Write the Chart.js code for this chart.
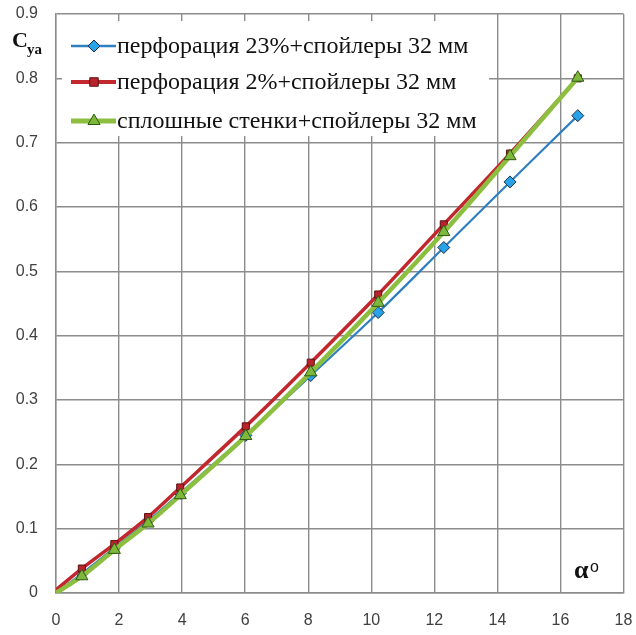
<!DOCTYPE html>
<html>
<head>
<meta charset="utf-8">
<script src="https://cdn.jsdelivr.net/npm/chart.js@4.4.1/dist/chart.umd.min.js"></script>
<style>
    html, body { margin: 0; padding: 0; background: #fff; }
    #wrap { width: 636px; height: 635px; }
</style>
</head>
<body>
<div id="wrap"><canvas id="myChart" width="636" height="635"></canvas></div>
<script>
// angle of attack, degrees (first point is the origin, drawn without a marker)
const alpha = [0, 0.82, 1.85, 2.92, 3.94, 6.02, 8.08, 10.22, 12.3, 14.4, 16.55];
// lift coefficient Cya for each configuration
const cyPerf23 = [0, 0.030, 0.070, 0.112, 0.155, 0.245, 0.338, 0.436, 0.537, 0.639, 0.742];
const cyPerf2 = [0.005, 0.038, 0.076, 0.118, 0.164, 0.259, 0.358, 0.464, 0.573, 0.683, 0.800];
const cySolid = [0, 0.026, 0.067, 0.108, 0.152, 0.244, 0.343, 0.451, 0.561, 0.679, 0.801];

const seriesNames = [
    'перфорация 23%+спойлеры 32 мм',
    'перфорация 2%+спойлеры 32 мм',
    'сплошные стенки+спойлеры 32 мм'
];
const xTicks = [0, 2, 4, 6, 8, 10, 12, 14, 16, 18];
const yTicks = [0, 0.1, 0.2, 0.3, 0.4, 0.5, 0.6, 0.7, 0.8, 0.9];

function points(ys) {
    return alpha.map(function (a, i) { return {x: a, y: ys[i]}; });
}

function markerSize(r) {
    return function (ctx) { return ctx.dataIndex === 0 ? 0 : r; };
}

// keep the plot box fixed: no extra room for half labels at the ends
function noEdgePadding(scale) {
    scale.paddingTop = 0;
    scale.paddingBottom = 0;
    scale.paddingLeft = 0;
    scale.paddingRight = 0;
}

const gridColor = '#8c8c8c';

const datasets = [
    {
        label: seriesNames[0],
        data: points(cyPerf23),
        borderColor: '#2f7fc1',
        borderWidth: 2.2,
        backgroundColor: '#29a3e8',
        pointBackgroundColor: '#29a3e8',
        pointBorderColor: '#1b2f4a',
        pointBorderWidth: 1,
        pointStyle: 'rectRot',
        pointRadius: markerSize(6),
        order: 3
    },
    {
        label: seriesNames[1],
        data: points(cyPerf2),
        borderColor: '#c1272d',
        borderWidth: 3.5,
        backgroundColor: '#b8232c',
        pointBackgroundColor: '#b8232c',
        pointBorderColor: '#5e1010',
        pointBorderWidth: 1,
        pointStyle: 'rect',
        pointRadius: markerSize(5),
        order: 2
    },
    {
        label: seriesNames[2],
        data: points(cySolid),
        borderColor: '#8cbf3f',
        borderWidth: 4.5,
        backgroundColor: '#7db83a',
        pointBackgroundColor: '#7db83a',
        pointBorderColor: '#2f5a12',
        pointBorderWidth: 1,
        pointStyle: 'triangle',
        pointRadius: markerSize(7),
        order: 1
    }
];

// legend box with line + marker samples, plus the axis captions
const decorations = {
    id: 'decorations',
    beforeDatasetsDraw: function (chart) {
        const ctx = chart.ctx;
        ctx.save();
        ctx.fillStyle = '#fff';
        ctx.fillRect(62, 21, 427, 115);

        const rowsY = [46, 82, 121];
        chart.data.datasets.forEach(function (ds, i) {
            const y = rowsY[i];
            ctx.strokeStyle = ds.borderColor;
            ctx.lineWidth = ds.borderWidth + 0.5;
            ctx.beginPath();
            ctx.moveTo(71, y);
            ctx.lineTo(116, y);
            ctx.stroke();

            ctx.fillStyle = ds.pointBackgroundColor;
            ctx.strokeStyle = ds.pointBorderColor;
            ctx.lineWidth = 1;
            Chart.helpers.drawPoint(ctx, {
                pointStyle: ds.pointStyle,
                radius: i === 2 ? 7 : 6,
                rotation: 0,
                borderWidth: 1
            }, 94, y);

            ctx.fillStyle = '#111';
            ctx.font = '24px "Liberation Serif"';
            ctx.textBaseline = 'middle';
            ctx.textAlign = 'left';
            ctx.fillText(ds.label, 117, y + 1);
        });

        // Cya
        ctx.fillStyle = '#111';
        ctx.textBaseline = 'alphabetic';
        ctx.font = 'bold 22px "Liberation Serif"';
        ctx.fillText('C', 12, 47);
        ctx.font = 'bold 15px "Liberation Serif"';
        ctx.fillText('ya', 27, 54);

        // αo
        ctx.font = 'bold 26px "Liberation Serif"';
        ctx.fillText('α', 574, 578);
        ctx.font = '16px "Liberation Sans"';
        ctx.fillText('o', 590, 572);
        ctx.restore();
    }
};

const chartSettings = {
    type: 'line',
    data: { datasets: datasets },
    options: {
        responsive: false,
        animation: false,
        layout: {
            padding: { top: 14, right: 12.5, left: 0, bottom: 0 }
        },
        plugins: {
            legend: { display: false },
            tooltip: { enabled: false }
        },
        elements: {
            line: { tension: 0.3, fill: false }
        },
        scales: {
            x: {
                type: 'linear',
                min: 0,
                max: 18,
                afterFit: function (scale) {
                    scale.height = 42;
                    noEdgePadding(scale);
                },
                afterBuildTicks: function (scale) {
                    scale.ticks = xTicks.map(function (v) { return {value: v}; });
                },
                ticks: {
                    color: '#404040',
                    padding: 18,
                    maxRotation: 0,
                    font: { family: 'Liberation Sans', size: 16 }
                },
                grid: { color: gridColor, lineWidth: 1.4, drawTicks: false },
                border: { color: gridColor, width: 1.4 }
            },
            y: {
                type: 'linear',
                min: 0,
                max: 0.9,
                afterFit: function (scale) {
                    scale.width = 56;
                    noEdgePadding(scale);
                },
                afterBuildTicks: function (scale) {
                    scale.ticks = yTicks.map(function (v) { return {value: v}; });
                },
                ticks: {
                    color: '#404040',
                    padding: 18,
                    font: { family: 'Liberation Sans', size: 16 },
                    callback: function (v) { return String(Math.round(v * 10) / 10); }
                },
                grid: { color: gridColor, lineWidth: 1.4, drawTicks: false },
                border: { color: gridColor, width: 1.4 }
            }
        }
    },
    plugins: [decorations]
};

window.onload = function () {
    const ctx = document.getElementById('myChart').getContext('2d');
    new Chart(ctx, chartSettings);
};
</script>
</body>
</html>
